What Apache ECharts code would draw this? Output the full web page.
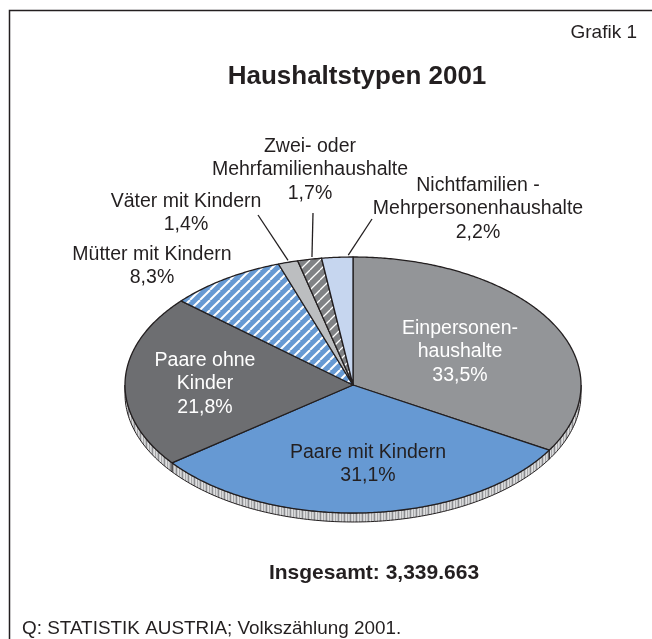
<!DOCTYPE html>
<html>
<head>
<meta charset="utf-8">
<script src="https://cdn.jsdelivr.net/npm/echarts@6/dist/echarts.min.js"></script>
<style>
html, body { margin: 0; padding: 0; background: #fff; }
#chart { width: 652px; height: 639px; }
</style>
</head>
<body>
<div id="chart"></div>
<script>
// data (shares in %)
var names = ['Einpersonen-\nhaushalte', 'Paare mit Kindern', 'Paare ohne\nKinder', 'Mütter mit Kindern',
	'Väter mit Kindern', 'Zwei- oder\nMehrfamilienhaushalte', 'Nichtfamilien -\nMehrpersonenhaushalte'];
var shares = [33.5, 31.1, 21.8, 8.3, 1.4, 1.7, 2.2];
var totalText = 'Insgesamt: 3,339.663';

// layout of the tilted pie
var cx = 353, cy = 385, rx = 228, ry = 128, depth = 9;
var ink = '#231f20';
var fills = ['#939598', '#6699d3', '#6d6e71', '#6699d3', '#bcbec0', '#808285', '#c6d6ef'];
var hatch = [0, 0, 0, 2, 0, 1.3, 0];
var labelColor = ['#fff', ink, '#fff', ink, ink, ink, ink];
var labelAt = [[107, -33], [15, 79], [-148, -1], [-201, -119], [-167, -172], [-43, -215], [125, -176]];
var leaderTo = [null, null, null, null, [-95, -170], [-40, -172], [19, -166]];
var leaderFrac = [0.5, 0.5, 0.5, 0.5, 0.5, 0.6, 0.85];

function stripes(bg, w) {
	var s = 10, c = document.createElement('canvas');
	c.width = c.height = s;
	var g = c.getContext('2d');
	g.fillStyle = bg;
	g.fillRect(0, 0, s, s);
	g.strokeStyle = '#fff';
	g.lineWidth = w;
	for (var k = -1; k <= 1; k++) {
		g.beginPath();
		g.moveTo(k * s, s);
		g.lineTo(k * s + s, 0);
		g.stroke();
	}
	return c;
}

function rimPattern() {
	var cols = ['#d6d7d8', '#bfc0c2', '#8c8d90', '#c9cacc', '#e0e0e1', '#a5a6a8'];
	var c = document.createElement('canvas');
	c.width = cols.length; c.height = 4;
	var g = c.getContext('2d');
	for (var i = 0; i < cols.length; i++) { g.fillStyle = cols[i]; g.fillRect(i, 0, 1, 4); }
	return c;
}
var rimFill = { image: rimPattern(), repeat: 'repeat' };

var startPct = [];
var acc = 0;
for (var i = 0; i < shares.length; i++) { startPct.push(acc); acc += shares[i]; }
var totalPct = acc;

function pt(deg, k, dy) {
	var t = deg * Math.PI / 180;
	return [cx + k * rx * Math.sin(t), cy - k * ry * Math.cos(t) + (dy || 0)];
}

function fmt(v) { return v.toFixed(1).replace('.', ',') + '%'; }

function renderSlice(params, api) {
	var i = params.dataIndex;
	var v = api.value(0);
	var a = startPct[i] / totalPct * 360;
	var b = a + v / totalPct * 360;
	var kids = [];

	// side of the disc, only on the front half
	var s = Math.max(a, 90), e = Math.min(b, 270);
	if (e > s) {
		var side = [];
		for (var d = s; d < e; d += 1) side.push(pt(d, 1));
		side.push(pt(e, 1));
		for (var d2 = e; d2 > s; d2 -= 1) side.push(pt(d2, 1, depth));
		side.push(pt(s, 1, depth));
		kids.push({ type: 'polygon', shape: { points: side },
			style: { fill: rimFill, stroke: ink, lineWidth: 1 } });
	}

	var pts = [[cx, cy]];
	for (var d3 = a; d3 < b; d3 += 0.5) pts.push(pt(d3, 1));
	pts.push(pt(b, 1));
	var fill = hatch[i] ? { image: stripes(fills[i], hatch[i]), repeat: 'repeat' } : fills[i];
	kids.push({ type: 'polygon', shape: { points: pts },
		style: { fill: fill, stroke: ink, lineWidth: 1.3, lineJoin: 'round' } });

	if (leaderTo[i]) {
		var p0 = pt(a + (b - a) * leaderFrac[i], 1.0, -2);
		kids.push({ type: 'line', z2: 5,
			shape: { x1: p0[0], y1: p0[1], x2: cx + leaderTo[i][0], y2: cy + leaderTo[i][1] },
			style: { stroke: ink, lineWidth: 1.3 } });
	}

	kids.push({ type: 'text', z2: 10, x: cx + labelAt[i][0], y: cy + labelAt[i][1],
		style: { text: names[i] + '\n' + fmt(v), fill: labelColor[i], align: 'center', verticalAlign: 'middle',
			fontFamily: 'Liberation Sans, Arial, sans-serif', fontSize: 19.5, lineHeight: 23.5 } });

	return { type: 'group', children: kids };
}

var myChart = echarts.init(document.getElementById('chart'), null, { renderer: 'canvas' });

var option = {
	animation: false,
	backgroundColor: '#fff',
	graphic: [
		{ type: 'rect', shape: { x: 9.5, y: 10.5, width: 680, height: 700 },
			style: { fill: 'none', stroke: ink, lineWidth: 1.5 } },
		{ type: 'text', x: 637, y: 33,
			style: { text: 'Grafik 1', fill: ink, align: 'right', verticalAlign: 'middle',
				fontFamily: 'Liberation Sans, Arial, sans-serif', fontSize: 19 } },
		{ type: 'text', x: 357, y: 77,
			style: { text: 'Haushaltstypen 2001', fill: ink, align: 'center', verticalAlign: 'middle',
				fontFamily: 'Liberation Sans, Arial, sans-serif', fontSize: 26, fontWeight: 'bold' } },
		{ type: 'text', x: 374, y: 573,
			style: { text: totalText, fill: ink, align: 'center', verticalAlign: 'middle',
				fontFamily: 'Liberation Sans, Arial, sans-serif', fontSize: 21, fontWeight: 'bold' } },
		{ type: 'text', x: 22, y: 629,
			style: { text: 'Q: STATISTIK AUSTRIA; Volkszählung 2001.', fill: ink, align: 'left', verticalAlign: 'middle',
				fontFamily: 'Liberation Sans, Arial, sans-serif', fontSize: 18.9 } }
	],
	series: [{
		type: 'custom',
		coordinateSystem: 'none',
		data: shares.map(function (v, i) { return [v, i]; }),
		renderItem: renderSlice
	}]
};

myChart.setOption(option, true);
</script>
</body>
</html>
